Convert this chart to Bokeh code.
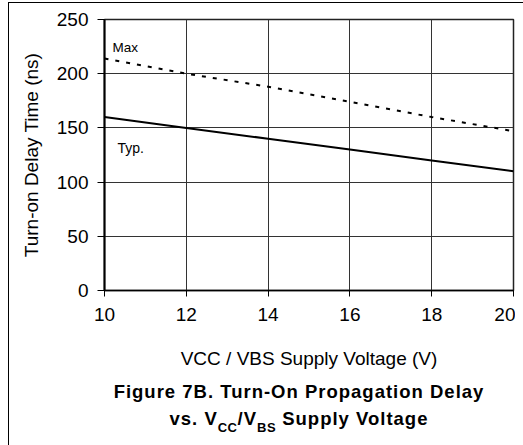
from bokeh.plotting import figure
from bokeh.models import Range1d, Label, FixedTicker, Div
from bokeh.layouts import column
from bokeh.embed import file_html
from bokeh.resources import INLINE

# ---- data ----
voltage = [10, 12, 14, 16, 18, 20]
typ_delay = [160, 150, 140, 130, 120, 110]
max_delay = [214, 200, 188, 174, 160, 147]
x_ticks = [10, 12, 14, 16, 18, 20]
y_ticks = [0, 50, 100, 150, 200, 250]

FONT = "Liberation Sans"
W, H = 506, 372

p = figure(width=W, height=H, output_backend="svg", toolbar_location=None,
           x_range=Range1d(10, 20), y_range=Range1d(0, 250),
           min_border_left=95, min_border_right=2, min_border_top=16,
           min_border_bottom=85)
p.background_fill_color = "white"
p.border_fill_color = "white"
p.outline_line_color = "#222222"
p.outline_line_width = 1.5

# grid
p.xgrid.ticker = FixedTicker(ticks=x_ticks)
p.ygrid.ticker = FixedTicker(ticks=y_ticks)
p.grid.grid_line_color = "#333333"
p.grid.grid_line_width = 1
p.grid.grid_line_alpha = 1

# axes
p.xaxis.ticker = FixedTicker(ticks=x_ticks)
p.yaxis.ticker = FixedTicker(ticks=y_ticks)
for ax in (p.xaxis[0], p.yaxis[0]):
    ax.major_label_text_font = FONT
    ax.major_label_text_font_size = "19px"
    ax.major_label_text_color = "black"
    ax.axis_label_text_font = FONT
    ax.axis_label_text_font_size = "19px"
    ax.axis_label_text_font_style = "normal"
    ax.axis_label_text_color = "black"
    ax.minor_tick_line_color = None
    ax.major_tick_in = 0
    ax.major_tick_line_color = "black"
    ax.axis_line_color = "black"

p.xaxis.axis_label = "VCC / VBS Supply Voltage (V)"
p.xaxis.major_tick_out = 6
p.xaxis.major_label_standoff = 11
p.xaxis.axis_label_standoff = 24
p.xaxis.axis_line_width = 1.5

p.yaxis.axis_label = "Turn-on Delay Time (ns)"
p.yaxis.major_tick_out = 7
p.yaxis.major_label_standoff = 9
p.yaxis.axis_label_standoff = 12
p.yaxis.axis_line_width = 2

# series
p.line(voltage, max_delay, line_color="black", line_width=2, line_dash="4 7")
p.line(voltage, typ_delay, line_color="black", line_width=2)

# pixel (page) -> data helpers for in-plot annotation placement
def xd(px):
    return 10 + (px - 104) / 40.9

def yd(py):
    return (290 - py) / (271 / 250)

p.add_layout(Label(x=xd(112), y=yd(47), text="Max", text_font=FONT,
                   text_font_size="13.5px", text_color="black",
                   text_baseline="alphabetic"))
p.add_layout(Label(x=xd(117), y=yd(147), text="Typ.", text_font=FONT,
                   text_font_size="14px", text_color="black",
                   text_baseline="alphabetic"))

# caption below the chart
sub = ('<span style="font-size:13px; letter-spacing:0.5px; vertical-align:-7px; '
       'line-height:0">{}</span>')
caption_html = (
    '<div style="margin-left:69px; margin-top:-2px; width:432px; text-align:center; '
    'font-family:\'Liberation Sans\'; font-size:18.5px; font-weight:bold; '
    'letter-spacing:1px; line-height:27px; color:black; white-space:nowrap">'
    'Figure 7B. Turn-On Propagation Delay<br>'
    'vs. V' + sub.format("CC") + '/V' + sub.format("BS") + ' Supply Voltage'
    '</div>'
)
cap = Div(text=caption_html, width=W, height=70)

# outer frame of the figure box: thin line on the left and top edges
layout = column(p, cap, spacing=0,
                styles={"margin-left": "9px", "margin-top": "3px",
                        "box-shadow": "-1px -1px 0 0 #000"})

open("out.html", "w").write(file_html(layout, INLINE))
